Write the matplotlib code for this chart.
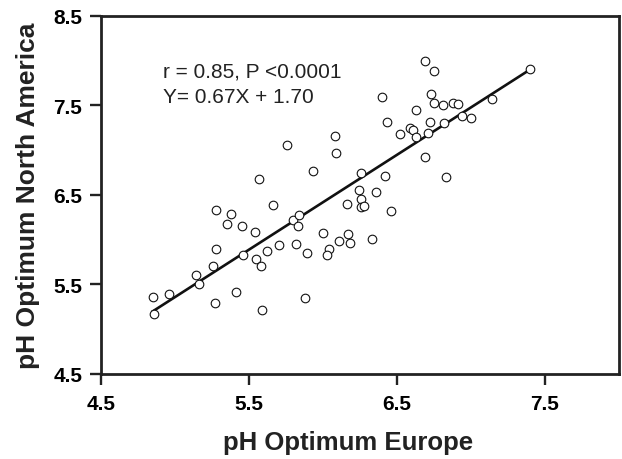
import numpy as np
import matplotlib
matplotlib.use("Agg")
import matplotlib.pyplot as plt

plt.rcParams['font.family'] = ['Liberation Sans', 'DejaVu Sans']

# pH optimum of each taxon
ph_europe = [6.08, 5.76, 6.09, 5.93, 5.57, 6.69, 6.75, 7.40, 6.40, 6.73,
             6.75, 6.81, 6.88, 6.91, 7.14, 6.63, 6.43, 6.72, 6.82, 6.94,
             7.00, 6.59, 6.61, 6.52, 6.63, 6.71, 6.69, 6.83, 6.26, 6.42,
             6.24, 6.36, 6.26, 6.16, 6.26, 6.28, 6.46, 6.17, 6.18, 6.33,
             5.66, 5.28, 5.38, 5.35, 5.45, 5.54, 5.80, 5.84, 5.83, 6.00,
             6.11, 6.04, 6.03, 5.70, 5.82, 5.89, 5.62, 5.55, 5.58, 5.46,
             5.28, 5.26, 5.14, 5.16, 4.96, 4.85, 4.86, 5.41, 5.27, 5.59,
             5.88]
ph_north_america = [7.16, 7.06, 6.97, 6.77, 6.68, 7.99, 7.88, 7.90, 7.59, 7.63,
                    7.53, 7.50, 7.52, 7.51, 7.57, 7.45, 7.31, 7.31, 7.30, 7.38,
                    7.36, 7.25, 7.22, 7.18, 7.15, 7.19, 6.92, 6.70, 6.74, 6.71,
                    6.55, 6.53, 6.45, 6.40, 6.36, 6.37, 6.32, 6.06, 5.96, 6.01,
                    6.39, 6.33, 6.29, 6.18, 6.15, 6.08, 6.22, 6.28, 6.15, 6.07,
                    5.99, 5.90, 5.83, 5.94, 5.95, 5.85, 5.87, 5.78, 5.71, 5.83,
                    5.89, 5.71, 5.61, 5.50, 5.39, 5.36, 5.17, 5.42, 5.29, 5.21,
                    5.35]

# fitted line as drawn
fit_x = [4.85, 7.40]
fit_y = [5.20, 7.90]

x_ticks = [4.5, 5.5, 6.5, 7.5]
y_ticks = [4.5, 5.5, 6.5, 7.5, 8.5]

fig = plt.figure(figsize=(6.22, 4.6), dpi=100)
ax = fig.add_axes([0.1624, 0.1848, 0.8328, 0.7789])

ax.plot(fit_x, fit_y, color='#111111', lw=1.9, zorder=2)
ax.plot(ph_europe, ph_north_america, 'o', ms=6.2, mfc='white', mec='#111111',
        mew=0.8, zorder=3)

ax.set_xlim(4.5, 8.0)
ax.set_ylim(4.5, 8.5)
ax.set_xticks(x_ticks)
ax.set_yticks(y_ticks)
ax.set_xticklabels([str(t) for t in x_ticks], fontsize=15, fontweight='bold')
ax.set_yticklabels([str(t) for t in y_ticks], fontsize=15, fontweight='bold')
ax.tick_params(direction='out', length=8, width=1.7, color='#222222')
ax.tick_params(axis='x', pad=6.5)
ax.tick_params(axis='y', pad=5.5)
for s in ax.spines.values():
    s.set_linewidth(2.0)
    s.set_color('#222222')

ax.set_xlabel('pH Optimum Europe', fontsize=18.5, fontweight='bold', color='#222222')
ax.set_ylabel('pH Optimum North America', fontsize=19, fontweight='bold', color='#222222')
ax.xaxis.set_label_coords(0.476, -0.155)
ax.yaxis.set_label_coords(-0.117, 0.5)

ax.text(0.12, 0.831, 'r = 0.85, P <0.0001', transform=ax.transAxes,
        fontsize=15, va='baseline', ha='left', color='#222222')
ax.text(0.12, 0.758, 'Y= 0.67X + 1.70', transform=ax.transAxes,
        fontsize=15, va='baseline', ha='left', color='#222222')

fig.savefig('out.png', dpi=100)
